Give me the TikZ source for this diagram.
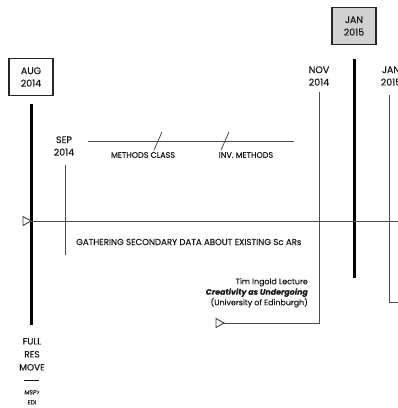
\documentclass[tikz,border=0pt]{standalone}
\usepackage{fontspec}
\setmainfont{Poppins}
\newfontfamily\labelfont{Poppins}[FakeBold=0.35]
\begin{document}
\begin{tikzpicture}[x=1pt,y=-1pt,
  lbl/.style={font=\labelfont\fontsize{9.5}{12.5}\selectfont, align=center, inner sep=0pt, text=black!90},
  small/.style={font=\labelfont\fontsize{8}{10}\selectfont},
  datebox/.style={draw=black!85, line width=1.6pt, minimum width=44pt, minimum height=37pt, inner sep=0pt, align=center, text=black!90, font=\labelfont\fontsize{9.5}{12.5}\selectfont},
  bar/.style={line width=3pt, black},
  thinline/.style={line width=0.8pt, black!70},
  tri/.style={draw=black!75, line width=0.9pt, fill=white, line join=miter}
]
\useasboundingbox (0,0) rectangle (398,408);

% date boxes
\node[datebox] (aug) at (31,77) {AUG\\2014};
\node[datebox, fill=black!18] (jan1) at (354,26) {JAN\\2015};

% date labels
\node[lbl] (sep) at (64,146) {SEP\\2014};
\node[lbl] (nov) at (319,76) {NOV\\2014};
\node[lbl] (jan2) at (391,76) {JAN\\2015};

% thick bars
\coordinate (augtop) at (31,104);
\coordinate (augbot) at (31,325);
\draw[bar] (augtop) -- (augbot);
\coordinate (jantop) at (354,59);
\coordinate (janbot) at (354,278);
\draw[bar] (jantop) -- (janbot);

% main timeline
\coordinate (mainL) at (31,221);
\coordinate (mainR) at (398,221);
\draw[thinline] (mainL) -- (mainR);
\draw[tri] (23,216.5) -- (31,221) -- (23,225.5) -- cycle;

% methods line with slashes
\coordinate (mL) at (88,141);
\coordinate (mR) at (294,141);
\draw[thinline] (mL) -- (mR);
\draw[thinline] (154,150) -- (162,132);
\draw[thinline] (221,150) -- (229,132);
\node[lbl, small] (mclass) at (143,155) {METHODS CLASS};
\node[lbl, small] (inv) at (246,155) {INV. METHODS};

% SEP span
\coordinate (sepT) at (65,165);
\coordinate (sepB) at (65,255);
\draw[thinline] (sepT) -- (sepB);
\node[lbl, font=\labelfont\fontsize{8.6}{10}\selectfont, anchor=west] (gather) at (76,242) {GATHERING SECONDARY DATA ABOUT EXISTING Sc ARs};

% NOV span
\coordinate (novT) at (319,92);
\coordinate (novC) at (319,323);
\coordinate (novE) at (224,323);
\draw[thinline] (novT) -- (novC) -- (novE);
\draw[tri] (216,318.5) -- (224,323) -- (216,327.5) -- cycle;
\node[lbl, font=\labelfont\fontsize{7.9}{10.5}\selectfont, align=right, anchor=north east] (ingold) at (308,278)
  {Tim Ingold Lecture\\\textbf{\itshape Creativity as Undergoing}\\(University of Edinburgh)};

% JAN span
\coordinate (janT) at (389,95);
\coordinate (janC) at (389,302);
\coordinate (janE) at (398,302);
\draw[thinline] (janT) -- (janC) -- (janE);

% move note
\node[lbl, font=\labelfont\fontsize{9}{13}\selectfont, anchor=north] (move) at (32,338) {FULL\\RES\\MOVE\\\rule[2.5pt]{15pt}{0.8pt}};
\node[lbl, font=\labelfont\fontsize{6}{10}\selectfont, anchor=north] (msp) at (32,390) {\textit{MSP>}\\EDI};
\end{tikzpicture}
\end{document}
